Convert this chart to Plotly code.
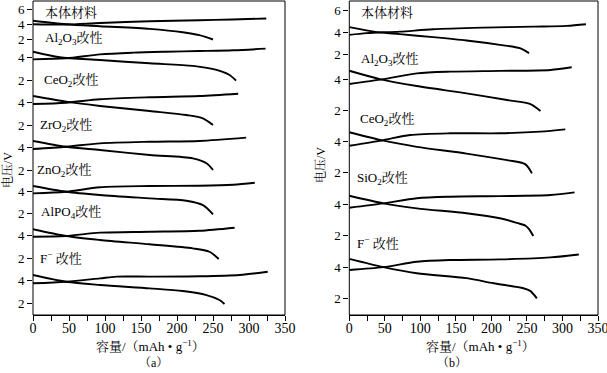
import plotly.graph_objects as go

# ---------------- data ----------------
a_names = ["本体材料", "Al<sub>2</sub>O<sub>3</sub>改性", "CeO<sub>2</sub>改性", "ZrO<sub>2</sub>改性",
           "ZnO<sub>2</sub>改性", "AlPO<sub>4</sub>改性", "F<sup>−</sup> 改性"]
b_names = ["本体材料", "Al<sub>2</sub>O<sub>3</sub>改性", "CeO<sub>2</sub>改性", "SiO<sub>2</sub>改性",
           "F<sup>−</sup> 改性"]

# panel (a): capacity (mAh/g) and voltage (V), charge / discharge, one list per material
a_chg_cap = [[0, 46, 93, 162, 231, 277, 324],
             [0, 46, 93, 139, 185, 231, 278, 323],
             [0, 46, 93, 162, 231, 285],
             [0, 46, 93, 162, 231, 296],
             [0, 46, 93, 162, 231, 278, 308],
             [0, 46, 93, 162, 231, 280],
             [0, 46, 93, 116, 162, 231, 287, 326]]
a_chg_v = [[4.0, 3.96, 4.17, 4.40, 4.54, 4.63, 4.77],
           [3.82, 3.91, 4.26, 4.41, 4.49, 4.55, 4.62, 4.76],
           [3.89, 4.01, 4.31, 4.49, 4.60, 4.80],
           [3.85, 4.05, 4.35, 4.49, 4.56, 4.85],
           [3.81, 3.95, 4.35, 4.46, 4.49, 4.58, 4.76],
           [3.91, 3.97, 4.27, 4.35, 4.44, 4.71],
           [3.78, 3.92, 4.22, 4.37, 4.37, 4.40, 4.52, 4.81]]
a_dis_cap = [[0, 46, 93, 162, 208, 231, 250],
             [0, 37, 93, 162, 222, 255, 273, 282],
             [0, 46, 93, 162, 213, 236, 250],
             [0, 46, 93, 162, 222, 241, 250],
             [0, 46, 93, 162, 213, 236, 250],
             [0, 46, 93, 162, 222, 245, 258],
             [0, 46, 93, 162, 208, 241, 259, 266]]
a_dis_v = [[4.47, 4.0, 3.73, 3.37, 2.92, 2.52, 1.94],
           [4.49, 4.0, 3.76, 3.47, 3.24, 2.89, 2.44, 1.94],
           [4.60, 4.10, 3.72, 3.27, 2.92, 2.63, 2.04],
           [4.56, 4.05, 3.76, 3.32, 3.03, 2.59, 2.0],
           [4.46, 3.95, 3.66, 3.36, 3.15, 2.76, 1.94],
           [4.57, 3.97, 3.62, 3.24, 2.88, 2.58, 1.94],
           [4.52, 3.92, 3.63, 3.33, 3.09, 2.73, 2.29, 1.94]]

# panel (b)
b_chg_cap = [[0, 24.5, 71, 118, 189, 259, 306, 333],
             [0, 48, 95, 142, 212, 283, 313],
             [0, 48, 85.5, 142, 212, 269, 304],
             [0, 48, 95, 142, 212, 283, 317],
             [0, 48, 95, 142, 212, 283, 323]]
b_chg_v = [[3.77, 3.93, 4.07, 4.29, 4.44, 4.53, 4.60, 4.75],
           [3.72, 4.04, 4.42, 4.53, 4.58, 4.64, 4.82],
           [3.71, 4.08, 4.41, 4.52, 4.52, 4.63, 4.78],
           [3.78, 4.06, 4.39, 4.49, 4.53, 4.60, 4.77],
           [3.81, 3.99, 4.34, 4.45, 4.49, 4.62, 4.81]]
b_dis_cap = [[0, 38.6, 71, 118, 165, 212, 240, 253],
             [0, 43, 95, 165, 222, 255, 269],
             [0, 48, 95, 165, 222, 247.5, 257],
             [0, 48, 95, 165, 212, 236, 248, 253, 259],
             [0, 48, 95, 165, 203, 245, 254.6, 264]]
b_dis_v = [[4.48, 4.02, 3.84, 3.56, 3.25, 2.85, 2.55, 2.09],
           [4.59, 4.04, 3.58, 3.10, 2.66, 2.39, 1.93],
           [4.59, 4.04, 3.64, 3.20, 2.77, 2.51, 1.91],
           [4.55, 4.06, 3.74, 3.42, 3.10, 2.80, 2.62, 2.40, 1.95],
           [4.52, 3.99, 3.60, 3.28, 2.95, 2.63, 2.46, 1.98]]

x_ticks = [0, 50, 100, 150, 200, 250, 300, 350]

# ---------------- layout geometry (pixels) ----------------
W, H = 607, 373
TOP, BOT = 1, 315
LEFT, RIGHT = 33, 598
PW = RIGHT - LEFT
PH = BOT - TOP

def fx(px):
    return (px - LEFT) / PW

def fy(py):
    return (BOT - py) / PH

# each block: (top px, bottom px, px of 4 V, px per V)
a_blocks = [(1, 46, 24.2, 7.43), (46, 89, 57.3, 11.35), (89, 133, 102.8, 11.3),
            (133, 179, 147.3, 11.35), (179, 223, 191.2, 11.2), (223, 268, 235.7, 11.3),
            (268, 315, 280.8, 11.25)]
b_blocks = [(1, 62, 32.4, 10.85), (62, 121, 79.7, 15.15), (121, 184, 141.3, 15.35),
            (184, 246, 204.3, 15.5), (246, 315, 267.0, 15.5)]

a_xdom = [0, fx(285)]
b_xdom = [fx(349.3), 1]

FONT = "Liberation Serif, Noto Serif CJK SC, Noto Sans CJK SC, serif"

fig = go.Figure()
layout = dict(width=W, height=H, margin=dict(l=LEFT, r=W - RIGHT, t=TOP, b=H - BOT, autoexpand=False),
              paper_bgcolor="white", plot_bgcolor="white", showlegend=False,
              font=dict(family=FONT, size=13, color="black"))

yi = 0
def add_panel(xname, blocks, chg_cap, chg_v, dis_cap, dis_v):
    global yi
    for k, (t, b, y4, s) in enumerate(blocks):
        yi += 1
        yname = "y" if yi == 1 else f"y{yi}"
        key = "yaxis" if yi == 1 else f"yaxis{yi}"
        lo = 4 - (b - y4) / s
        hi = 4 + (y4 - t) / s
        tv = [2, 4, 6] if k == 0 else [2, 4]
        layout[key] = dict(domain=[fy(b), fy(t)], range=[lo, hi], anchor=xname,
                           tickvals=tv, ticktext=[str(v) for v in tv],
                           ticks="outside", ticklen=5, tickwidth=1, tickcolor="black",
                           showgrid=False, zeroline=False, showline=False,
                           tickfont=dict(size=13, family=FONT), fixedrange=True)
        for cx, cy in ((chg_cap[k], chg_v[k]), (dis_cap[k], dis_v[k])):
            fig.add_trace(go.Scatter(x=cx, y=cy, mode="lines", xaxis=xname, yaxis=yname,
                                     line=dict(color="black", width=1.9, shape="spline", smoothing=0.8),
                                     hoverinfo="skip"))
    return yi

last_a = add_panel("x", a_blocks, a_chg_cap, a_chg_v, a_dis_cap, a_dis_v)
last_b = add_panel("x2", b_blocks, b_chg_cap, b_chg_v, b_dis_cap, b_dis_v)

for key, dom, anc in (("xaxis", a_xdom, f"y{last_a}"), ("xaxis2", b_xdom, f"y{last_b}")):
    layout[key] = dict(domain=dom, range=[0, 350], anchor=anc, tickvals=x_ticks,
                       ticktext=[str(v) for v in x_ticks],
                       ticks="outside", ticklen=5, tickwidth=1, tickcolor="black",
                       minor=dict(dtick=25, tick0=0, ticks="outside", ticklen=5, tickcolor="black"),
                       showgrid=False, zeroline=False, showline=True, linecolor="black", linewidth=1,
                       ticklabelstandoff=-5, ticklabeloverflow="allow",
                       tickfont=dict(size=14, family=FONT), fixedrange=True)

fig.update_layout(**layout)

# panel frames
for dom in (a_xdom, b_xdom):
    fig.add_shape(type="rect", xref="paper", yref="paper", x0=dom[0], x1=dom[1], y0=0, y1=1,
                  line=dict(color="black", width=1), layer="above")

# material labels (left x px, centre y px)
a_lab_pos = [(43, 12.5), (43, 38.7), (42, 80), (38, 125), (35, 170.5), (39, 212.8), (38, 258)]
b_lab_pos = [(359, 12.7), (359, 60), (358, 119), (355, 178.5), (355, 242.5)]
for names, pos in ((a_names, a_lab_pos), (b_names, b_lab_pos)):
    for nm, (px, py) in zip(names, pos):
        fig.add_annotation(text=nm, x=fx(px), y=fy(py), xref="paper", yref="paper",
                           xanchor="left", yanchor="middle", showarrow=False,
                           font=dict(size=13, family=FONT))

# axis titles and panel captions
for px, py in ((7, 170), (320, 165)):
    fig.add_annotation(text="电压/V", x=fx(px), y=fy(py), xref="paper", yref="paper",
                       xanchor="center", yanchor="middle",
                       textangle=-90, showarrow=False, font=dict(size=12, family=FONT))
for px in (150, 480):
    fig.add_annotation(text="容量/（mAh • g<sup>−1</sup>）", x=fx(px), y=fy(346), xref="paper",
                       yref="paper", xanchor="center", yanchor="middle",
                       showarrow=False, font=dict(size=13, family=FONT))
for px, t in ((153, "（a）"), (452, "（b）")):
    fig.add_annotation(text=t, x=fx(px), y=fy(363), xref="paper", yref="paper",
                       xanchor="center", yanchor="middle",
                       showarrow=False, font=dict(size=12, family=FONT))

fig.write_html("out.html", post_script="document.body.style.margin='0';",
               config={"displayModeBar": False})
